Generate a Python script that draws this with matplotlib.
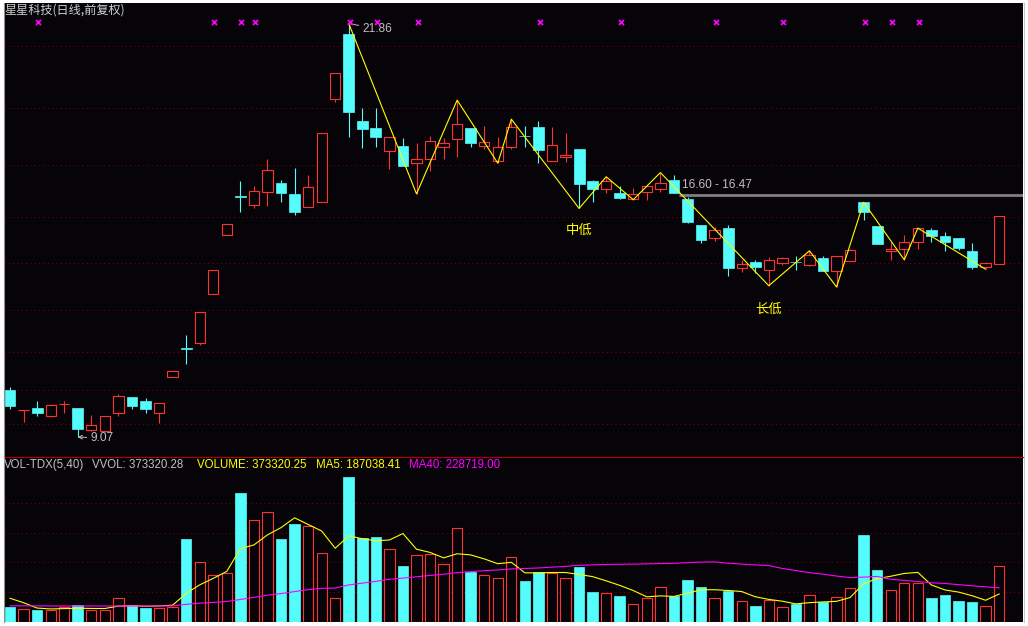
import numpy as np
import pandas as pd
import matplotlib
matplotlib.use('Agg')
import matplotlib.pyplot as plt
from matplotlib.transforms import blended_transform_factory
from matplotlib.lines import Line2D

# ---------------- data ----------------
opens = [10.52, 9.91, 9.97, 9.73, 10.08, 9.97, 9.30, 9.27, 9.80, 10.31,
         10.18, 9.80, 10.92, 11.81, 11.97, 13.50, 15.31, 16.51, 16.24, 16.64,
         16.93, 16.59, 16.19, 16.33, 19.53, 21.54, 18.84, 18.63, 17.93, 18.07,
         17.54, 17.66, 18.03, 18.28, 18.63, 18.08, 17.60, 18.03, 18.38, 18.66,
         17.62, 17.72, 17.98, 16.99, 16.73, 16.62, 16.42, 16.66, 16.73, 17.02,
         16.43, 15.63, 15.22, 15.53, 14.29, 14.48, 14.23, 14.44, 14.49, 14.39,
         14.61, 14.20, 14.50, 16.33, 15.60, 14.82, 14.88, 15.09, 15.47, 15.29,
         15.23, 14.82, 14.32, 14.41]
highs = [10.61, 9.91, 10.18, 10.09, 10.18, 9.97, 9.75, 9.71, 10.40, 10.31,
         10.28, 10.11, 11.10, 12.23, 12.93, 14.23, 15.66, 16.99, 16.83, 17.67,
         17.02, 17.39, 17.17, 18.46, 20.32, 21.86, 19.26, 19.26, 18.35, 18.32,
         18.15, 18.38, 18.32, 19.49, 18.63, 18.69, 18.36, 18.90, 18.69, 18.84,
         18.66, 18.46, 17.98, 17.01, 17.12, 16.83, 16.76, 16.82, 17.25, 17.17,
         16.48, 15.63, 15.58, 15.62, 14.55, 14.55, 14.65, 14.64, 14.67, 14.83,
         14.67, 14.66, 14.89, 16.33, 15.60, 15.11, 15.33, 15.53, 15.53, 15.41,
         15.23, 15.07, 14.48, 15.90]
lows = [9.95, 9.54, 9.73, 9.69, 9.82, 9.07, 9.26, 9.23, 9.73, 9.95,
        9.82, 9.51, 10.92, 11.34, 11.92, 13.50, 15.31, 16.04, 16.16, 16.22,
        16.35, 15.95, 16.19, 16.33, 19.44, 18.36, 18.02, 18.05, 17.35, 17.46,
        16.59, 17.31, 17.68, 17.74, 18.05, 17.97, 17.54, 17.97, 18.05, 17.55,
        17.62, 17.59, 16.14, 16.35, 16.63, 16.43, 16.41, 16.40, 16.66, 16.63,
        15.68, 15.08, 15.14, 14.06, 14.18, 14.13, 13.75, 14.39, 14.25, 14.35,
        14.21, 13.71, 14.50, 15.79, 15.05, 14.55, 14.55, 14.89, 15.11, 14.83,
        14.86, 14.27, 14.26, 14.41]
closes = [10.04, 9.91, 9.82, 10.05, 10.09, 9.33, 9.43, 9.71, 10.33, 10.04,
          9.95, 10.11, 11.10, 11.80, 12.93, 14.23, 15.66, 16.50, 16.67, 17.32,
          16.63, 16.04, 16.79, 18.46, 20.32, 19.13, 18.61, 18.36, 18.35, 17.46,
          17.67, 18.22, 18.15, 18.74, 18.17, 18.19, 18.04, 18.65, 18.37, 17.96,
          18.09, 17.79, 16.91, 16.75, 16.99, 16.47, 16.58, 16.82, 16.92, 16.63,
          15.73, 15.17, 15.46, 14.31, 14.42, 14.34, 14.54, 14.60, 14.48, 14.69,
          14.21, 14.66, 14.85, 16.04, 15.05, 14.89, 15.09, 15.53, 15.30, 15.11,
          14.92, 14.34, 14.44, 15.90]
# volume, thousands
volumes_k = [101, 84, 79, 77, 101, 113, 77, 77, 158, 113,
             94, 90, 101, 557, 400, 313, 326, 867, 683, 739,
             557, 658, 643, 461, 158, 975, 562, 571, 490, 375,
             447, 454, 387, 629, 335, 313, 292, 434, 274, 333,
             326, 292, 369, 200, 191, 173, 117, 158, 232, 173,
             281, 234, 158, 207, 137, 106, 144, 97, 117, 178,
             131, 164, 225, 584, 348, 212, 259, 259, 161, 180,
             140, 136, 106, 373.32]
# moving averages before enough history is visible (thousands)
ma5_head = [158, 128, 92, 86]
ma40_head = [107, 107, 107, 106, 106, 106, 106, 106, 106, 106,
             106, 106, 106, 117, 125, 130, 136, 150, 164, 179,
             190, 203, 216, 225, 227, 248, 260, 272, 286, 294,
             303, 312, 320, 331, 338, 344, 349, 356, 359]
# zigzag turning points (alternating high / low, starting with high)
zz_idx = [25, 30, 33, 36, 37, 42, 44, 46, 48, 56, 59, 61, 63, 66, 67, 72]
# magenta signal marks
mark_idx = [2, 15, 17, 18, 25, 27, 30, 39, 45, 52, 57, 63, 65, 67]
# price grid levels and volume grid levels
price_grid = [21.16, 19.24, 17.47, 15.89, 14.44, 12.99, 11.69, 10.52, 9.46]
vol_grid = [200000, 400000, 600000, 800000]
hline_price = 16.55
hline_from = 49
title = '星星科技(日线,前复权)'
label_mid = '中低'
label_long = '长低'
mid_low_idx = 42
long_low_idx = 56
hl_label = '16.60 - 16.47'

# ---------------- style ----------------
BG = '#060409'
RED = '#FF3232'
CYAN = '#54FCFC'
GRID = '#8C0000'
GRAY = '#C0C0C0'
YEL = '#FFFF00'
MAG = '#FF00FF'
NUMFONT = ['Liberation Sans', 'DejaVu Sans']
CJK = ['Noto Sans CJK SC', 'DejaVu Sans']
plt.rcParams['lines.scale_dashes'] = False

W, H = 1028, 626
fig = plt.figure(figsize=(W / 100, H / 100), dpi=100, facecolor='white')


def fx(px):
    return px / W


def fy(py):
    return 1 - py / H


ax = fig.add_axes([fx(4), fy(456.5), fx(1023) - fx(4), fy(3) - fy(456.5)])
axv = fig.add_axes([fx(4), fy(621.7), fx(1023) - fx(4), fy(456.5) - fy(621.7)])
for a in (ax, axv):
    a.set_facecolor(BG)
    a.set_xticks([])
    a.set_yticks([])
    for s in a.spines.values():
        s.set_visible(False)
    a.set_xlim(-0.4428, 74.76)

ax.set_ylim(8.467, 22.494)
axv.set_ylim(0, 1114300)

o = np.array(opens)
h = np.array(highs)
l = np.array(lows)
c = np.array(closes)
n = len(o)
x = np.arange(n)
up = c >= o
cols = np.where(up, RED, CYAN)
blo = np.minimum(o, c)
bhi = np.maximum(o, c)
bh = bhi - blo

dots = (0, (0.72, 2.4))
for g in price_grid:
    ax.axhline(g, color=GRID, lw=0.75, ls=dots, zorder=0.5)
for g in vol_grid:
    axv.axhline(g, color=GRID, lw=0.75, ls=dots, zorder=0.5)

# candles
ax.vlines(x, bhi, h, colors=cols, lw=0.8, zorder=1.5)
ax.vlines(x, l, blo, colors=cols, lw=0.8, zorder=1.5)
ax.bar(x[~up], bh[~up], bottom=blo[~up], width=0.8, color=CYAN,
       edgecolor=CYAN, lw=0.5, zorder=2)
ax.bar(x[up], bh[up], bottom=blo[up], width=0.76, facecolor=BG,
       edgecolor=RED, lw=0.8, zorder=2)

# zigzag
zz_p = [h[i] if k % 2 == 0 else l[i] for k, i in enumerate(zz_idx)]
ax.plot(zz_idx, zz_p, color=YEL, lw=0.8, zorder=3)

# horizontal gray line with label
ax.plot([hline_from + 0.37, 74.76], [hline_price, hline_price],
        color='#808080', lw=2.0, zorder=2.5, solid_capstyle='butt')
ax.annotate(hl_label, xy=(hline_from + 0.37, hline_price), xytext=(2, 7.2),
            textcoords='offset points', ha='left', va='center', color=GRAY,
            fontsize=8.6, family=NUMFONT)

# signal marks
trans = blended_transform_factory(ax.transData, ax.transAxes)
ax.plot(np.array(mark_idx) + 0.08, [0.9575] * len(mark_idx), transform=trans,
        ls='none', marker='x', ms=3.6, mew=1.3, color=MAG, zorder=4)

# extreme labels
ihi = int(np.argmax(h))
ilo = int(np.argmin(l))
ax.annotate(f'{h[ihi]:.2f}', xy=(ihi, h[ihi]), xytext=(10.1, -4.0),
            textcoords='offset points', ha='left', va='center', color=GRAY,
            fontsize=8.6, family=NUMFONT,
            arrowprops=dict(arrowstyle='-', color=GRAY, lw=0.7,
                            shrinkA=1, shrinkB=0))
ax.annotate(f'{l[ilo]:.2f}', xy=(ilo, l[ilo]), xytext=(9.4, -0.8),
            textcoords='offset points', ha='left', va='center', color=GRAY,
            fontsize=8.6, family=NUMFONT,
            arrowprops=dict(arrowstyle='->,head_length=0.3,head_width=0.15',
                            color=GRAY, lw=0.7, shrinkA=1, shrinkB=0))

ax.annotate(label_mid, xy=(mid_low_idx, l[mid_low_idx]), xytext=(0, -15.1),
            textcoords='offset points', ha='center', va='center', color=YEL,
            fontsize=9.6, family=CJK)
ax.annotate(label_long, xy=(long_low_idx, l[long_low_idx]), xytext=(0, -17.0),
            textcoords='offset points', ha='center', va='center', color=YEL,
            fontsize=9.6, family=CJK)

# volume
vol = np.array(volumes_k) * 1000.0
axv.bar(x[~up], vol[~up], width=0.78, color=CYAN, edgecolor=CYAN, lw=0.5,
        zorder=2)
axv.bar(x[up], vol[up], width=0.76, facecolor=BG, edgecolor=RED, lw=0.8,
        zorder=2)
sv = pd.Series(vol)
ma5 = sv.rolling(5).mean().to_numpy()
ma5[:len(ma5_head)] = np.array(ma5_head) * 1000.0
ma40 = sv.rolling(40).mean().to_numpy()
ma40[:len(ma40_head)] = np.array(ma40_head) * 1000.0
axv.plot(x, ma5, color=YEL, lw=0.8, zorder=3)
axv.plot(x, ma40, color=MAG, lw=0.8, zorder=3)

# panel separator and borders
fig.add_artist(Line2D([fx(4), fx(1023)], [fy(456.7), fy(456.7)], color='#B00000', lw=0.8))
fig.add_artist(Line2D([fx(3.5), fx(3.5)], [fy(3), fy(621.7)], color='#909090', lw=0.8))
fig.add_artist(Line2D([fx(1023.5), fx(1023.5)], [fy(3), fy(621.7)], color='#C8C8C8', lw=0.8))

# texts
fig.text(fx(4.5), fy(10.5), title, color='#D0D0D0', fontsize=8.7, family=CJK,
         ha='left', va='center')
hdr = [(4, 'VOL-TDX(5,40)', GRAY), (91.7, 'VVOL: 373320.28', GRAY),
       (196.7, 'VOLUME: 373320.25', YEL), (315.7, 'MA5: 187038.41', YEL),
       (409.3, 'MA40: 228719.00', MAG)]
for px, s, col in hdr:
    fig.text(fx(px), fy(465), s, color=col, fontsize=8.3, family=NUMFONT,
             ha='left', va='center')

fig.savefig('out.png', dpi=100, facecolor='white')
